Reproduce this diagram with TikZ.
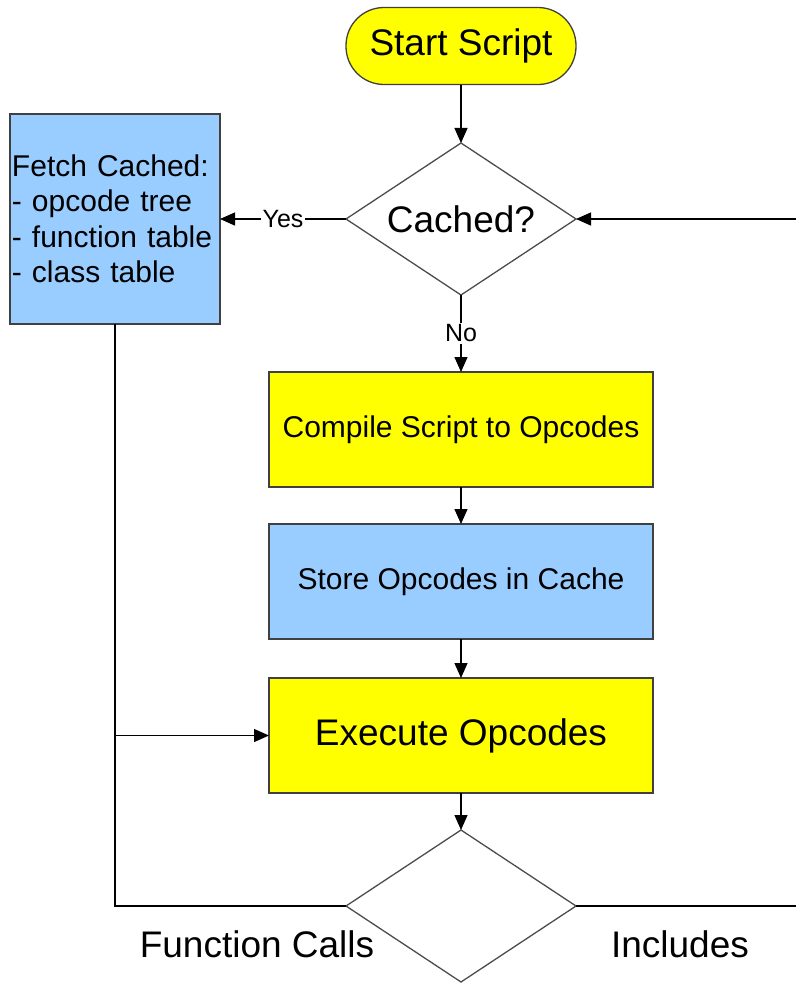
\documentclass[tikz,border=0pt]{standalone}
\usepackage{fontspec}
\setmainfont{Liberation Sans}
\usetikzlibrary{shapes.geometric, positioning, arrows.meta}

\definecolor{boxyellow}{HTML}{FFFF00}
\definecolor{boxblue}{HTML}{99CCFF}

\tikzset{
  bigtext/.style={font=\fontsize{37}{44}\selectfont},
  midtext/.style={font=\fontsize{30}{35.5}\selectfont},
  terminal/.style={rectangle, rounded corners=38pt, draw=black!75, line width=1.3pt, outer sep=0pt,
    fill=boxyellow, minimum width=230pt, minimum height=77pt, bigtext},
  decision/.style={diamond, draw=black!70, line width=1.3pt, fill=white, aspect=1.5, outer sep=0pt,
    minimum width=230pt, minimum height=152pt, inner sep=0pt, bigtext},
  flowbox/.style={rectangle, draw=black!75, line width=1.3pt, minimum width=384pt, outer sep=0pt,
    minimum height=115pt, inner sep=0pt, midtext},
  edgelabel/.style={fill=white, inner sep=1.5pt, font=\fontsize{25}{30}\selectfont}
}

\begin{document}
\begin{tikzpicture}[x=1pt, y=-1pt, line width=1.3pt,
  >={Triangle[length=15pt,width=13pt]}]
\useasboundingbox (0,0) rectangle (796,983);
\node[terminal] (start) at (461,46) {Start Script};
\node[decision, below=58.5pt of start] (cached) {Cached?};
\node[flowbox, fill=boxblue, left=126pt of cached, minimum width=210pt, minimum height=210pt,
  text width=206pt, inner xsep=2pt, align=left] (fetch) {Fetch Cached:\\- opcode tree\\- function table\\- class table\\[5pt]};
\node[flowbox, fill=boxyellow, below=77pt of cached] (compile) {Compile Script to Opcodes};
\node[flowbox, fill=boxblue, below=37pt of compile] (store) {Store Opcodes in Cache};
\node[flowbox, fill=boxyellow, below=39pt of store, bigtext] (execute) {Execute Opcodes};
\node[decision, below=37pt of execute] (calls) {};
\node[bigtext] (fncalls) at (257,944) {Function Calls};
\node[bigtext] (includes) at (680,944) {Includes};
\path (cached.east) ++(220pt,0pt) coordinate (loopin);
\path (calls.east) ++(220pt,0pt) coordinate (loopout);
\coordinate (branch) at (fetch.south |- execute.west);
\path[->] (start) edge (cached)
(cached) edge node[edgelabel] {Yes} (fetch)
(cached) edge node[edgelabel] {No} (compile)
(compile) edge (store)
(store) edge (execute)
(execute) edge (calls)
(loopin) edge (cached)
(branch) edge (execute)
;
\draw (fetch.south) |- (calls.west);
\draw (calls.east) -- (loopout);
\end{tikzpicture}
\end{document}
